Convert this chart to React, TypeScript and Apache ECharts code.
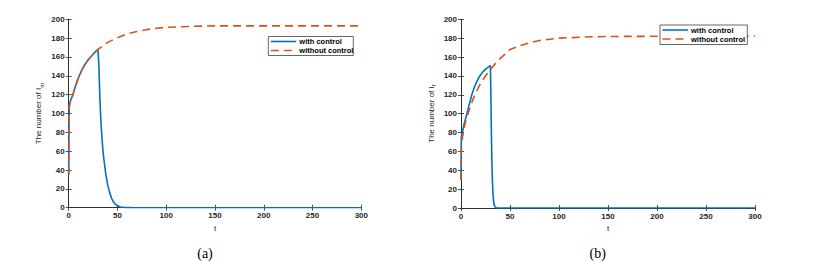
import React, { useEffect, useRef } from "react";
import * as echarts from "echarts";

// ---- data ----
const tWithA = [0, 0.3, 0.6, 1, 2, 4, 6, 8, 10, 13, 16, 20, 25, 30, 31, 32, 33, 34, 35, 36, 37, 38, 40, 42, 44, 46, 48, 50, 53, 57, 65, 80, 150, 300];
const vWithA = [35, 90, 108, 110, 114, 119, 126, 132, 138, 145, 151, 157, 163, 168, 150, 115, 92, 76, 62, 52, 44, 36, 24, 16, 10, 6, 3.5, 2, 0.8, 0.3, 0.05, 0, 0, 0];
const tWithoutA = [0, 0.3, 0.6, 1, 2, 4, 6, 8, 10, 13, 16, 20, 25, 30, 35, 40, 50, 60, 70, 80, 90, 100, 125, 150, 200, 300];
const vWithoutA = [35, 90, 108, 110, 114, 119, 126, 132, 138, 145, 151, 157, 163, 168, 172, 175.5, 180.5, 184.5, 187, 189, 190.5, 191.5, 192.5, 193, 193, 193];

const tWithB = [0, 0.3, 1, 2, 3, 4, 6, 8, 11, 14, 18, 22, 26, 30, 30.5, 31, 31.5, 32, 32.5, 33, 33.5, 34, 35, 36, 38, 300];
const vWithB = [30, 75, 78, 83, 88, 92, 100, 108, 120, 129, 138, 144, 148, 151, 120, 80, 50, 30, 18, 10, 5, 2.5, 1, 0.3, 0, 0];
const tWithoutB = [0, 0.5, 1.5, 3, 5, 7.5, 10, 12.6, 16, 21, 25, 30, 35, 40, 45, 50, 60, 70, 80, 100, 125, 150, 200, 300];
const vWithoutB = [30, 68, 75, 84, 93, 101, 109, 116, 124, 134, 140, 147, 153, 158.5, 163, 168, 172, 175, 177.5, 180, 181.2, 181.8, 182, 182];

const seriesNames = ["with control", "without control"];
const xTicks = { min: 0, max: 300, interval: 50 };
const yTicks = { min: 0, max: 200, interval: 20 };
const panelLabels = ["(a)", "(b)"];
const yNames = ["The number of I{sub|m}", "The number of I{sub|f}"];
const xName = "t";

const pair = (t: number[], v: number[]) => t.map((x, i) => [x, v[i]]);

const AX = "#262626";
const FONT = "Liberation Sans";
const BLUE = "#0072BD";
const ORANGE = "#D95319";

function axesFor(grid: number, yName: string) {
  const line = { show: true, lineStyle: { color: AX, width: 0.8 } };
  const tick = { show: true, inside: true, length: 3, lineStyle: { color: AX, width: 0.8 } };
  const label = { fontSize: 8, color: AX, fontFamily: FONT, fontWeight: "bold" as const };
  const x = [
    {
      gridIndex: grid, type: "value", position: "bottom", ...xTicks,
      axisLine: line, axisTick: tick, splitLine: { show: false },
      axisLabel: { ...label, margin: 4 },
      name: xName, nameLocation: "middle", nameGap: 11,
      nameTextStyle: { fontSize: 8, color: AX, fontFamily: FONT },
    },
    {
      gridIndex: grid, type: "value", position: "top", ...xTicks,
      axisLine: line, axisTick: tick, splitLine: { show: false },
      axisLabel: { show: false },
    },
  ];
  const y = [
    {
      gridIndex: grid, type: "value", position: "left", ...yTicks,
      axisLine: line, axisTick: tick, splitLine: { show: false },
      axisLabel: { ...label, margin: 4 },
      name: yName, nameLocation: "middle", nameGap: 24,
      nameTextStyle: {
        fontSize: 8, color: AX, fontFamily: FONT,
        rich: { sub: { fontSize: 6, color: AX, fontFamily: FONT, padding: [6, 0, 0, 0] } },
      },
    },
    {
      gridIndex: grid, type: "value", position: "right", ...yTicks,
      axisLine: line, axisTick: tick, splitLine: { show: false },
      axisLabel: { show: false },
    },
  ];
  return { x, y };
}

function legendBox(x: number, y: number, w: number, h: number) {
  const r1 = y + 5;
  const r2 = y + 14;
  const lx0 = x + 2.5;
  const lx1 = x + 28;
  const tx = x + 31;
  const txtStyle = { font: `bold 7.5px '${FONT}'`, fill: "#000", verticalAlign: "middle" as const, align: "left" as const };
  return {
    type: "group", z: 100,
    children: [
      { type: "rect", shape: { x, y, width: w, height: h }, style: { fill: "#fff", stroke: AX, lineWidth: 0.7 }, z: 100 },
      { type: "line", shape: { x1: lx0, y1: r1, x2: lx1, y2: r1 }, style: { stroke: BLUE, lineWidth: 1.6 }, z: 101 },
      { type: "line", shape: { x1: lx0, y1: r2, x2: lx1, y2: r2 }, style: { stroke: ORANGE, lineWidth: 1.6, lineDash: [8, 5] }, z: 101 },
      { type: "text", x: tx, y: r1, style: { text: seriesNames[0], ...txtStyle }, z: 101 },
      { type: "text", x: tx, y: r2, style: { text: seriesNames[1], ...txtStyle }, z: 101 },
    ],
  };
}

export default function App() {
  const ref = useRef<HTMLDivElement>(null);
  useEffect(() => {
    if (!ref.current) return;
    const chart = echarts.init(ref.current, undefined, { renderer: "svg" });
    const a = axesFor(0, yNames[0]);
    const b = axesFor(1, yNames[1]);
    const mk = (name: string, data: number[][], axisIdx: number, dashed: boolean) => ({
      name, type: "line", data, xAxisIndex: axisIdx, yAxisIndex: axisIdx,
      showSymbol: false, symbol: "none", smooth: false,
      lineStyle: { color: dashed ? ORANGE : BLUE, width: 1.6, type: dashed ? [8, 5] : "solid" },
      itemStyle: { color: dashed ? ORANGE : BLUE },
    });
    chart.setOption({
      animation: false,
      backgroundColor: "#fff",
      grid: [
        { left: 68.7, top: 19.3, width: 292.6, height: 188.4 },
        { left: 461, top: 19.3, width: 294, height: 188.7 },
      ],
      xAxis: [...a.x, ...b.x],
      yAxis: [...a.y, ...b.y],
      series: [
        mk(seriesNames[0], pair(tWithA, vWithA), 0, false),
        mk(seriesNames[1], pair(tWithoutA, vWithoutA), 0, true),
        mk(seriesNames[0], pair(tWithB, vWithB), 2, false),
        mk(seriesNames[1], pair(tWithoutB, vWithoutB), 2, true),
      ],
      graphic: [
        legendBox(268.3, 36.5, 85, 19),
        legendBox(660, 25, 87.3, 19.5),
        { type: "text", x: 205, y: 253, style: { text: panelLabels[0], font: "14px 'Liberation Serif'", fill: "#000", align: "center", verticalAlign: "middle" } },
        { type: "text", x: 597.7, y: 253, style: { text: panelLabels[1], font: "14px 'Liberation Serif'", fill: "#000", align: "center", verticalAlign: "middle" } },
      ],
    });
    return () => chart.dispose();
  }, []);
  return <div ref={ref} style={{ position: "fixed", left: 0, top: 0, width: 828, height: 261 }} />;
}
